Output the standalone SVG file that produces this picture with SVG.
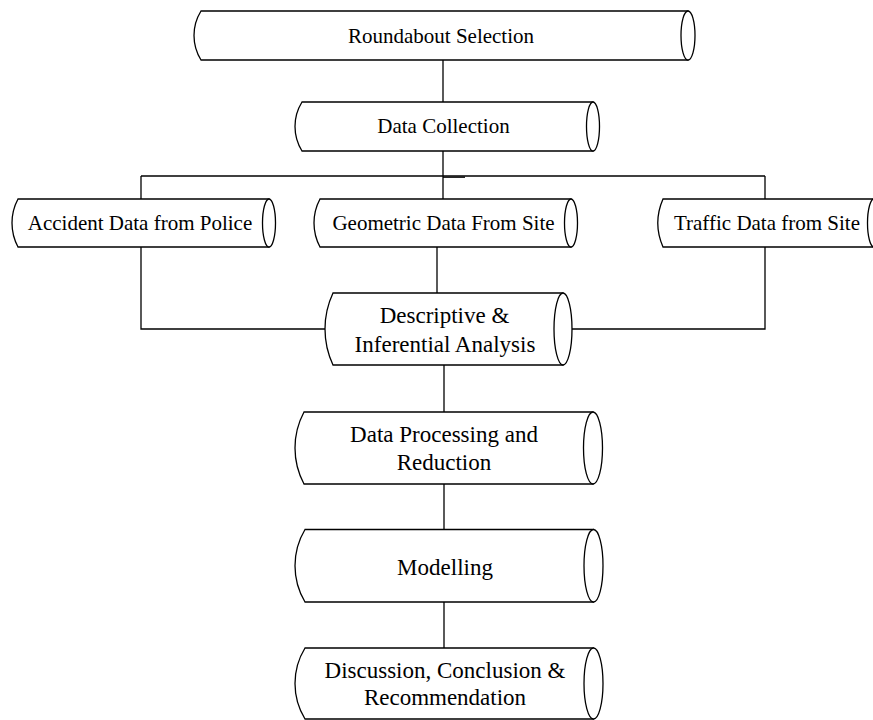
<svg xmlns="http://www.w3.org/2000/svg" width="873" height="720" viewBox="0 0 873 720">
<style>
.s{fill:#fff;stroke:#000;stroke-width:1.3}
.c{fill:none;stroke:#000;stroke-width:1.3}
.t{font-family:"Liberation Serif","Times New Roman",serif;fill:#000;text-anchor:middle}
.sm{font-size:21px}
.lg{font-size:23px}
</style>
<rect width="873" height="720" fill="#fff"/>
<g id="connectors">
<path class="c" d="M443 60V102"/>
<path class="c" d="M443 151V199"/>
<path class="c" d="M141 176H765"/>
<path class="c" d="M443 177.2H465"/>
<path class="c" d="M141 176V199"/>
<path class="c" d="M765 176V199"/>
<path class="c" d="M141 247V329H325"/>
<path class="c" d="M765 247V329H572"/>
<path class="c" d="M437 247V293"/>
<path class="c" d="M444 365V412"/>
<path class="c" d="M444 484V529.5"/>
<path class="c" d="M444 602V648"/>
</g>
<g id="roundabout">
<path class="s" d="M201 11H688V60H201A46.4 46.4 0 0 1 201 11Z"/>
<ellipse class="s" cx="688" cy="35.5" rx="7" ry="24.5"/>
<text class="t sm" x="441" y="43">Roundabout Selection</text>
</g>
<g id="data-collection">
<path class="s" d="M302 102H593V151H302A46.4 46.4 0 0 1 302 102Z"/>
<ellipse class="s" cx="593" cy="126.5" rx="6.5" ry="24.5"/>
<text class="t sm" x="443.5" y="133">Data Collection</text>
</g>
<g id="accident">
<path class="s" d="M18 199H269V247H18A51 51 0 0 1 18 199Z"/>
<ellipse class="s" cx="269" cy="223" rx="6.5" ry="24"/>
<text class="t sm" x="140" y="230">Accident Data from Police</text>
</g>
<g id="geometric">
<path class="s" d="M320 199H571V247H320A51 51 0 0 1 320 199Z"/>
<ellipse class="s" cx="571" cy="223" rx="6.5" ry="24"/>
<text class="t sm" x="443.5" y="230">Geometric Data From Site</text>
</g>
<g id="traffic">
<path class="s" d="M663 199H874V247H663A60 60 0 0 1 663 199Z"/>
<ellipse class="s" cx="874" cy="223" rx="6.5" ry="24"/>
<text class="t sm" x="767" y="230">Traffic Data from Site</text>
</g>
<g id="descriptive">
<path class="s" d="M333 293H563V365H333A85 85 0 0 1 333 293Z"/>
<ellipse class="s" cx="563" cy="329" rx="9" ry="36"/>
<text class="t lg" x="444.5" y="323">Descriptive &amp;</text>
<text class="t lg" x="445" y="352">Inferential Analysis</text>
</g>
<g id="processing">
<path class="s" d="M304 412H593V484H304A76.5 76.5 0 0 1 304 412Z"/>
<ellipse class="s" cx="593" cy="448" rx="9.5" ry="36"/>
<text class="t lg" x="444" y="442">Data Processing and</text>
<text class="t lg" x="444" y="470">Reduction</text>
</g>
<g id="modelling">
<path class="s" d="M305 529.5H593.5V602H305A70.7 70.7 0 0 1 305 529.5Z"/>
<ellipse class="s" cx="593.5" cy="565.75" rx="9.5" ry="36.25"/>
<text class="t lg" x="445" y="575">Modelling</text>
</g>
<g id="discussion">
<path class="s" d="M305 648H593.5V719H305A68 68 0 0 1 305 648Z"/>
<ellipse class="s" cx="593.5" cy="683.5" rx="9.5" ry="35.5"/>
<text class="t lg" x="445" y="678">Discussion, Conclusion &amp;</text>
<text class="t lg" x="445" y="705">Recommendation</text>
</g>
</svg>
